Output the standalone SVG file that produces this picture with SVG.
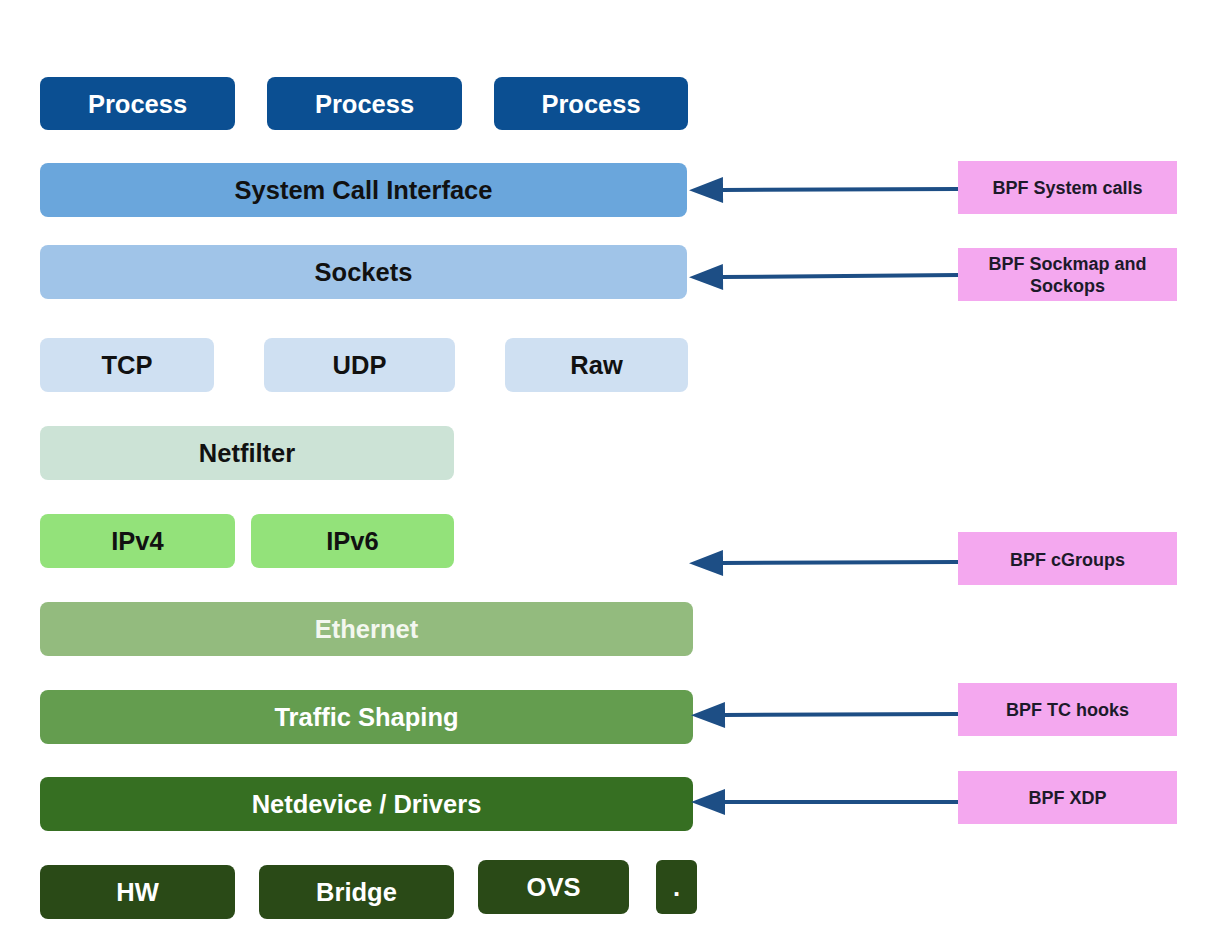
<svg xmlns="http://www.w3.org/2000/svg" width="1222" height="950" viewBox="0 0 1222 950">
<style>
.t{font-family:"Liberation Sans",Arial,sans-serif;font-weight:bold;font-size:25.5px;text-anchor:middle;dominant-baseline:central}
.w{fill:#ffffff}
.k{fill:#111111}
.p{fill:#f4a8ef}
.pt{font-family:"Liberation Sans",Arial,sans-serif;font-weight:bold;font-size:18px;text-anchor:middle;dominant-baseline:central;fill:#1c1a2a}
.c{stroke:#1d4e85;stroke-width:4;fill:none}
</style>
<defs>
<marker id="ah" markerUnits="userSpaceOnUse" markerWidth="36" markerHeight="28" refX="1" refY="13" orient="auto" overflow="visible">
<path d="M0,0 L34,13 L0,26 Z" fill="#1d4e85"/>
</marker>
</defs>
<rect width="1222" height="950" fill="#ffffff"/>

<g id="process1"><rect x="40" y="77" width="195" height="53" rx="8" fill="#0b4f92"/><text class="t w" x="137.5" y="103.5">Process</text></g>
<g id="process2"><rect x="267" y="77" width="195" height="53" rx="8" fill="#0b4f92"/><text class="t w" x="364.5" y="103.5">Process</text></g>
<g id="process3"><rect x="494" y="77" width="194" height="53" rx="8" fill="#0b4f92"/><text class="t w" x="591" y="103.5">Process</text></g>

<g id="sci"><rect x="40" y="163" width="647" height="54" rx="8" fill="#6aa6dc"/><text class="t k" x="363.5" y="190">System Call Interface</text></g>
<g id="sockets"><rect x="40" y="245" width="647" height="54" rx="8" fill="#a0c4e8"/><text class="t k" x="363.5" y="272">Sockets</text></g>

<g id="tcp"><rect x="40" y="338" width="174" height="54" rx="8" fill="#cfe0f2"/><text class="t k" x="127" y="365">TCP</text></g>
<g id="udp"><rect x="264" y="338" width="191" height="54" rx="8" fill="#cfe0f2"/><text class="t k" x="359.5" y="365">UDP</text></g>
<g id="raw"><rect x="505" y="338" width="183" height="54" rx="8" fill="#cfe0f2"/><text class="t k" x="596.5" y="365">Raw</text></g>

<g id="netfilter"><rect x="40" y="426" width="414" height="54" rx="8" fill="#cce3d6"/><text class="t k" x="247" y="453">Netfilter</text></g>

<g id="ipv4"><rect x="40" y="514" width="195" height="54" rx="8" fill="#93e27a"/><text class="t k" x="137.5" y="541">IPv4</text></g>
<g id="ipv6"><rect x="251" y="514" width="203" height="54" rx="8" fill="#93e27a"/><text class="t k" x="352.5" y="541">IPv6</text></g>

<g id="ethernet"><rect x="40" y="602" width="653" height="54" rx="8" fill="#93bb7e"/><text class="t" x="366.5" y="629" fill="#f3f7ef">Ethernet</text></g>
<g id="traffic"><rect x="40" y="690" width="653" height="54" rx="8" fill="#649d4f"/><text class="t w" x="366.5" y="717">Traffic Shaping</text></g>
<g id="netdevice"><rect x="40" y="777" width="653" height="54" rx="8" fill="#366f22"/><text class="t w" x="366.5" y="804">Netdevice / Drivers</text></g>

<g id="hw"><rect x="40" y="865" width="195" height="54" rx="8" fill="#2a4a17"/><text class="t w" x="137.5" y="892">HW</text></g>
<g id="bridge"><rect x="259" y="865" width="195" height="54" rx="8" fill="#2a4a17"/><text class="t w" x="356.5" y="892">Bridge</text></g>
<g id="ovs"><rect x="478" y="860" width="151" height="54" rx="8" fill="#2a4a17"/><text class="t w" x="553.5" y="887">OVS</text></g>
<g id="dot"><rect x="656" y="860" width="41" height="54" rx="6" fill="#2a4a17"/><text class="t w" x="676.5" y="887">.</text></g>

<g id="bpf-syscalls"><rect class="p" x="958" y="161" width="219" height="53"/><text class="pt" x="1067.5" y="188">BPF System calls</text></g>
<g id="bpf-sockmap"><rect class="p" x="958" y="248" width="219" height="53"/><text class="pt" x="1067.5" y="264">BPF Sockmap and</text><text class="pt" x="1067.5" y="286">Sockops</text></g>
<g id="bpf-cgroups"><rect class="p" x="958" y="532" width="219" height="53"/><text class="pt" x="1067.5" y="560">BPF cGroups</text></g>
<g id="bpf-tc"><rect class="p" x="958" y="683" width="219" height="53"/><text class="pt" x="1067.5" y="710">BPF TC hooks</text></g>
<g id="bpf-xdp"><rect class="p" x="958" y="771" width="219" height="53"/><text class="pt" x="1067.5" y="798">BPF XDP</text></g>

<g id="connectors">
<line class="c" x1="958" y1="189" x2="722" y2="190" marker-end="url(#ah)"/>
<line class="c" x1="958" y1="275" x2="722" y2="277" marker-end="url(#ah)"/>
<line class="c" x1="958" y1="562" x2="722" y2="563" marker-end="url(#ah)"/>
<line class="c" x1="958" y1="714" x2="724" y2="715" marker-end="url(#ah)"/>
<line class="c" x1="958" y1="802" x2="724" y2="802" marker-end="url(#ah)"/>
</g>
</svg>
